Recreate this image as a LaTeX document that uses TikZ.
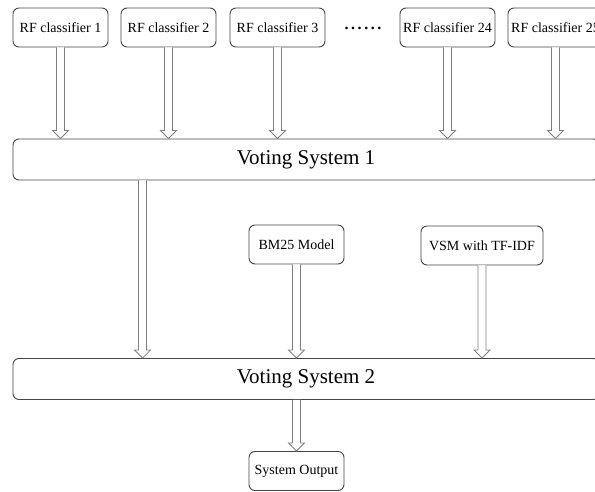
\documentclass[tikz,border=0pt]{standalone}
\usepackage{fontspec}
\setmainfont{Liberation Serif}
\usepackage{tikz}
\usetikzlibrary{calc}
\definecolor{boxgray}{HTML}{454545}
\definecolor{arrgray}{HTML}{7F7F7F}

\newcommand{\hollowarr}[2]{%
  \draw[arr] let \p1=(#1), \p2=(#2) in
    ({\x1-4pt},\y1) -- ({\x1-4pt},{\y2+8pt}) -- ({\x1-8pt},{\y2+8pt}) -- (\x1,\y2)
    -- ({\x1+8pt},{\y2+8pt}) -- ({\x1+4pt},{\y2+8pt}) -- ({\x1+4pt},\y1);}

\begin{document}
\begin{tikzpicture}[x=1pt, y=1pt,
  clfbox/.style={draw=boxgray, line width=0.9pt, rounded corners=6pt, fill=white,
              minimum width=95pt, minimum height=39pt, inner sep=1pt, text centered,
              font=\fontsize{14}{16}\selectfont},
  votebox/.style={draw=boxgray, line width=0.9pt, rounded corners=6pt, fill=white,
              minimum width=586pt, minimum height=41pt, text centered,
              font=\fontsize{21}{24}\selectfont},
  arr/.style={draw=arrgray, line width=0.8pt, fill=white, line join=miter}
]
\clip (0,0) rectangle (595,492);

\node[clfbox] (nrf1)  at (60.5, 464.5)  {RF classifier 1};
\node[clfbox] (nrf2)  at (168.5,464.5)  {RF classifier 2};
\node[clfbox] (nrf3)  at (277.5,464.5)  {RF classifier 3};
\node[font=\fontsize{16}{18}\selectfont\bfseries, inner sep=0pt, anchor=base] (ndots) at (363,462)
  {.\kern2.6pt.\kern2.6pt.\kern2.6pt.\kern2.6pt.\kern2.6pt.};
\node[clfbox] (nrf24) at (447.5,464.5)  {RF classifier 24};
\node[clfbox] (nrf25) at (555.5,464.5)  {RF classifier 25};

\node[votebox] (nvote1) at (306,332.5) {Voting System 1};

\node[clfbox] (nbm)  at (296.5,247.5) {BM25 Model};
\node[clfbox, minimum width=122pt] (nvsm) at (482,246.5) {VSM with TF-IDF};

\node[votebox] (nvote2) at (306,113) {Voting System 2};

\node[clfbox] (nout) at (296.5,21) {System Output};

\coordinate (ntap) at ($(nvote1.south west)+(130,0)$);

\hollowarr{nrf1.south}{nrf1.south |- nvote1.north}
\hollowarr{nrf2.south}{nrf2.south |- nvote1.north}
\hollowarr{nrf3.south}{nrf3.south |- nvote1.north}
\hollowarr{nrf24.south}{nrf24.south |- nvote1.north}
\hollowarr{nrf25.south}{nrf25.south |- nvote1.north}
\hollowarr{ntap}{ntap |- nvote2.north}
\hollowarr{nbm.south}{nbm.south |- nvote2.north}
\hollowarr{nvsm.south}{nvsm.south |- nvote2.north}
\hollowarr{nout.north |- nvote2.south}{nout.north}
\end{tikzpicture}
\end{document}
